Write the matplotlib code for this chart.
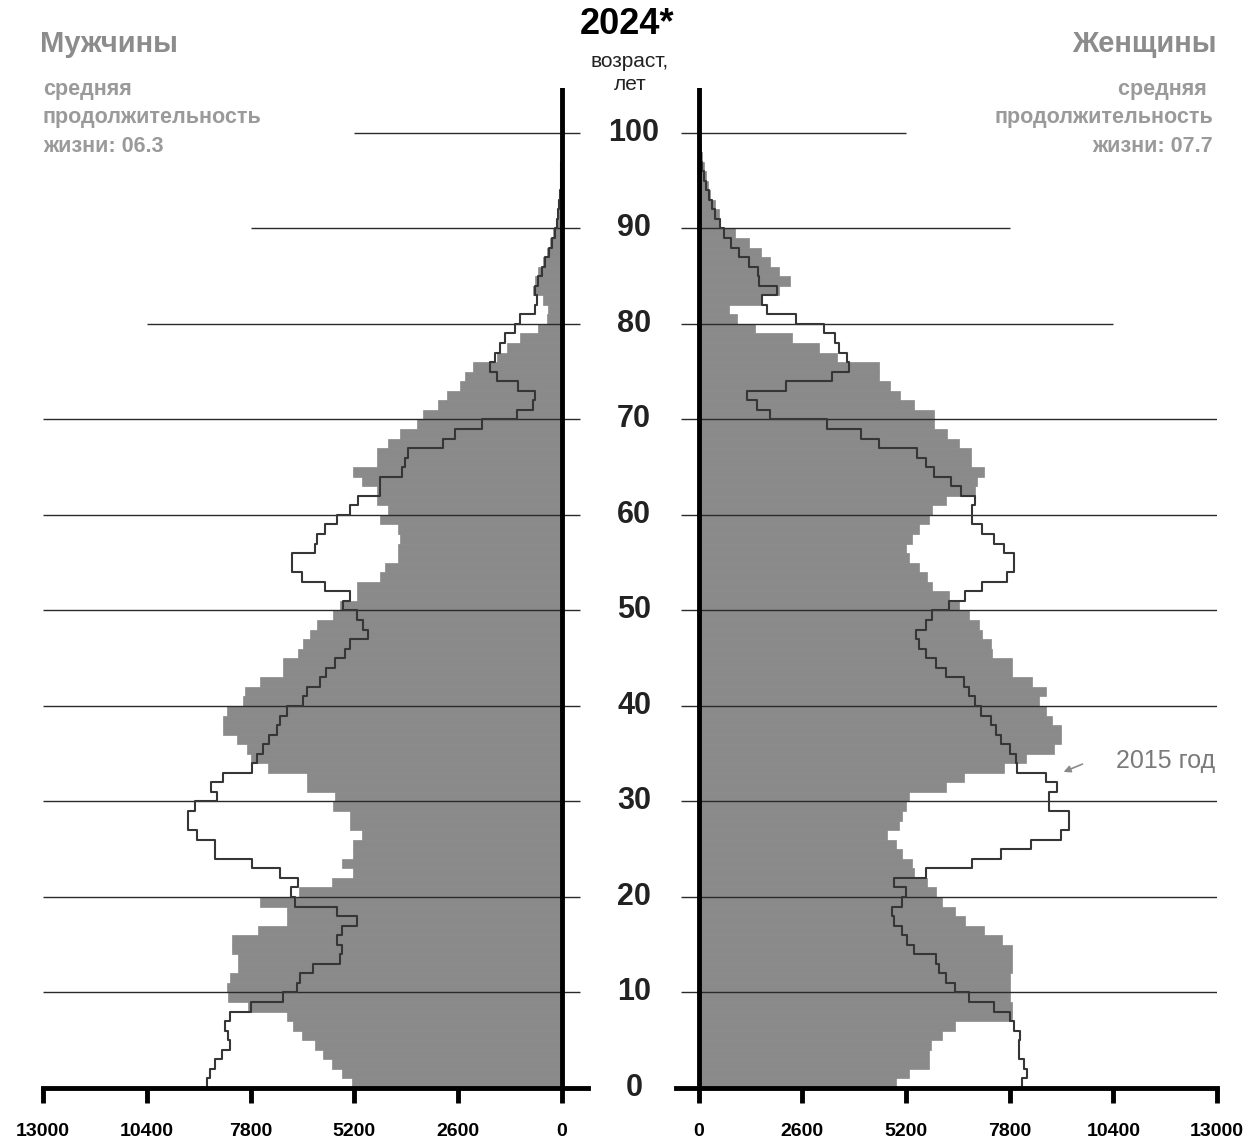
import numpy as np
import matplotlib
matplotlib.use('Agg')
import matplotlib.pyplot as plt
from matplotlib.transforms import blended_transform_factory

plt.rcParams['font.family'] = ['Liberation Sans', 'DejaVu Sans']

ages = np.arange(0, 101)

# мужчины, 2024 (серые столбцы)
male_2024 = [5270, 5520, 5770, 5980, 6190, 6520, 6730, 6900, 7860, 8360,
             8400, 8320, 8110, 8110, 8270, 8270, 7610, 6900, 6900, 7560,
             6600, 5770, 5230, 5520, 5230, 5230, 5020, 5310, 5310, 5730,
             5690, 6400, 6400, 7360, 7780, 7900, 8150, 8490, 8490, 8400,
             7980, 7940, 7560, 6990, 6990, 6610, 6480, 6310, 6140, 5730,
             5560, 5140, 5140, 4560, 4430, 4110, 4110, 4060, 4110, 4560,
             4350, 4640, 4640, 5020, 5230, 4640, 4640, 4350, 4060, 3640,
             3480, 3100, 2890, 2560, 2430, 2230, 1640, 1390, 1050, 600,
             380, 350, 470, 720, 680, 600, 470, 380, 300, 220,
             150, 110, 80, 60, 45, 32, 22, 15, 10, 6, 4]

# мужчины, 2015 (контур)
male_2015 = [8900, 8820, 8690, 8520, 8320, 8360, 8440, 8320, 7780, 6990,
             6650, 6560, 6230, 5560, 5520, 5640, 5520, 5140, 5640, 6690,
             6800, 6610, 7060, 7770, 8690, 8690, 9150, 9360, 9360, 9190,
             8650, 8780, 8490, 7770, 7650, 7500, 7350, 7150, 7060, 6900,
             6480, 6400, 6060, 5900, 5690, 5440, 5310, 4860, 4980, 5140,
             5480, 5310, 5940, 6520, 6770, 6770, 6190, 6140, 5940, 5640,
             5310, 5110, 4560, 4560, 4020, 3930, 3860, 2980, 2680, 2010,
             1140, 720, 680, 1100, 1640, 1800, 1680, 1550, 1430, 1180,
             1050, 680, 630, 680, 600, 500, 420, 330, 250, 170,
             120, 90, 65, 45, 32, 22, 15, 10, 6, 4, 2]

# женщины, 2024
female_2024 = [4940, 5270, 5770, 5770, 5820, 6100, 6440, 7860, 7860, 7820,
               7820, 7820, 7860, 7860, 7860, 7610, 7150, 6690, 6440, 6100,
               5940, 5730, 5400, 5350, 5100, 4940, 4720, 5020, 5100, 5190,
               5270, 6190, 6650, 7660, 8200, 8900, 9080, 9080, 8870, 8700,
               8540, 8700, 8370, 7860, 7860, 7360, 7320, 7110, 7030, 6780,
               6530, 6280, 5850, 5730, 5520, 5270, 5190, 5350, 5520, 5770,
               5850, 6190, 6940, 6980, 7150, 6820, 6820, 6530, 6230, 5900,
               5900, 5400, 5060, 4810, 4520, 4520, 3470, 3010, 2340, 1420,
               960, 750, 1550, 2010, 2300, 2010, 1800, 1550, 1260, 920,
               540, 500, 420, 290, 230, 170, 120, 80, 50, 30, 15]

# женщины, 2015
female_2015 = [8110, 8240, 8160, 8030, 8030, 8070, 7910, 7820, 7400, 6780,
               6440, 6190, 6020, 5940, 5400, 5230, 5100, 4890, 4850, 5100,
               5190, 4890, 5690, 6860, 7570, 8330, 9080, 9290, 9290, 8790,
               8790, 8990, 8700, 7990, 7950, 7800, 7570, 7450, 7320, 7070,
               6940, 6780, 6650, 6190, 5940, 5690, 5520, 5440, 5690, 5850,
               6280, 6690, 7110, 7740, 7910, 7910, 7660, 7400, 7110, 6860,
               6860, 6940, 6570, 6320, 5900, 5690, 5480, 4520, 4060, 3220,
               1800, 1460, 1210, 2180, 3350, 3770, 3720, 3510, 3430, 3140,
               2430, 1720, 1590, 1970, 1510, 1490, 1260, 1010, 800, 630,
               540, 420, 340, 250, 180, 130, 90, 60, 40, 25, 12]

xticks = [0, 2600, 5200, 7800, 10400, 13000]
age_ticks = [0, 10, 20, 30, 40, 50, 60, 70, 80, 90, 100]
# короткие линии сетки сверху: возраст -> до какого значения
short_grid = {80: 10400, 90: 7800, 100: 5200}

W, H = 1250, 1144
fig = plt.figure(figsize=(W / 100, H / 100), dpi=100)

def px(x, y):
    return x / W, 1 - y / H

bottom = 1 - 1088 / H
height = 1000 / H
axL = fig.add_axes([43 / W, bottom, 545 / W, height])
axR = fig.add_axes([676 / W, bottom, 541 / W, height])

bar_col = '#8a8a8a'
line_col = '#363636'

def stairs(vals):
    v = np.asarray(vals, dtype=float)
    y = np.column_stack([ages, ages + 1]).ravel()
    x = np.repeat(v, 2)
    return x, y

for ax, v24, v15, side in [(axL, male_2024, male_2015, 'L'),
                           (axR, female_2024, female_2015, 'R')]:
    ax.barh(ages, v24, height=1.0, align='edge', color=bar_col,
            edgecolor=bar_col, linewidth=0.5, zorder=1)
    x15, y15 = stairs(v15)
    ax.plot(x15, y15, color=line_col, lw=1.5, zorder=4)

    for a in age_ticks[1:]:
        if a in short_grid:
            ax.hlines(a, -450, short_grid[a], color='#2a2a2a', lw=1.0, zorder=3)
        else:
            ax.hlines(a, -450, 13000, color='#2a2a2a', lw=1.0, zorder=3)

    ax.axvline(0, color='black', lw=3.5, zorder=5)
    ax.set_ylim(0, 104.7)
    if side == 'L':
        ax.set_xlim(13000, -650)
    else:
        ax.set_xlim(-570, 13000)
    ax.set_xticks(xticks)
    ax.set_xticklabels([str(t) for t in xticks], fontsize=14, fontweight='bold')
    ax.set_yticks([])
    for s in ['top', 'left', 'right']:
        ax.spines[s].set_visible(False)
    ax.spines['bottom'].set_linewidth(3.5)
    ax.spines['bottom'].set_zorder(6)
    ax.tick_params(axis='x', direction='out', length=11, width=3.5, pad=14)
    ax.set_facecolor('none')

# подписи возрастов по центру
tr = blended_transform_factory(fig.transFigure, axL.transData)
for a in age_ticks:
    axL.text(634 / W, a, str(a), transform=tr, ha='center', va='center',
             fontsize=22, fontweight='bold', color='#222222', clip_on=False)

fig.text(*px(627, 24), '2024*', ha='center', va='center', fontsize=26,
         fontweight='bold', color='black')
fig.text(*px(630, 73), 'возраст,\nлет', ha='center', va='center', fontsize=15,
         color='#222222', linespacing=1.3)

fig.text(*px(40, 44), 'Мужчины', ha='left', va='center', fontsize=21,
         fontweight='bold', color='#8c8c8c')
fig.text(*px(43, 118), 'средняя\nпродолжительность\nжизни: 06.3', ha='left',
         va='center', fontsize=15.5, fontweight='bold', color='#9a9a9a', linespacing=1.45)

fig.text(*px(1217, 44), 'Женщины', ha='right', va='center', fontsize=21,
         fontweight='bold', color='#8c8c8c')
fig.text(*px(1213, 118), 'средняя \nпродолжительность\nжизни: 07.7', ha='right',
         va='center', fontsize=15.5, fontweight='bold', color='#9a9a9a', linespacing=1.45)

fig.text(*px(1215, 761), '2015 год', ha='right', va='center', fontsize=18,
         color='#7a7a7a')
fig.add_artist(matplotlib.patches.FancyArrowPatch(
    px(1085, 763), px(1061, 773), transform=fig.transFigure,
    arrowstyle='-|>', mutation_scale=10, color='#8a8a8a', lw=1.2))

fig.savefig('out.png', dpi=100, facecolor='white')
